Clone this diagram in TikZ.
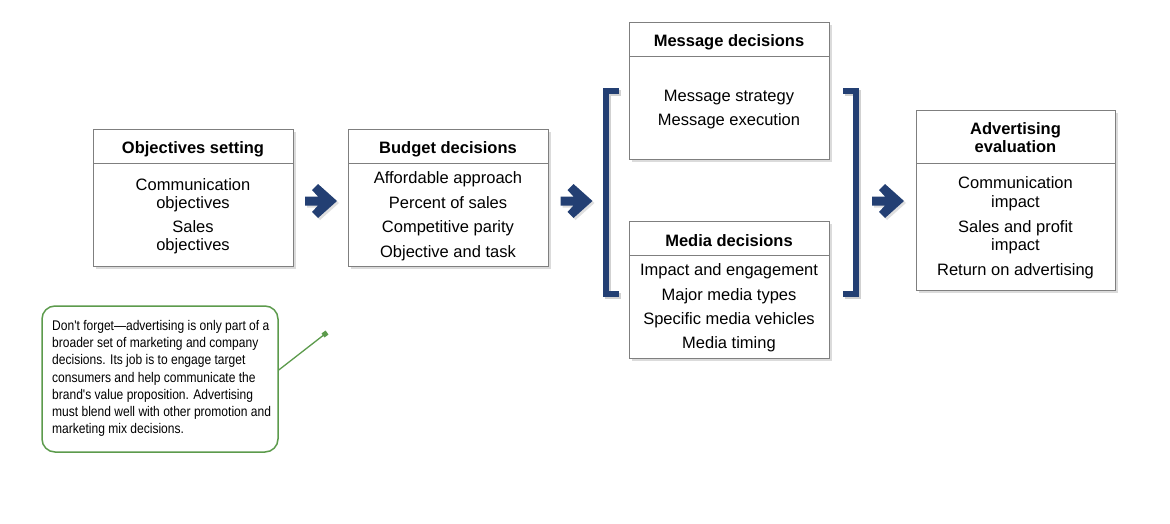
\documentclass[tikz,border=0pt]{standalone}
\usepackage{fontspec}
\setmainfont{Liberation Sans}
\newfontfamily\notefont[FakeStretch=0.86]{Liberation Sans}
\usetikzlibrary{shadows}
\definecolor{navy}{HTML}{233F73}
\definecolor{notegreen}{HTML}{5C9B4C}
\definecolor{rulegray}{HTML}{7F7F7F}
\begin{document}
\begin{tikzpicture}[x=1pt,y=-1pt,
  box/.style={draw=rulegray, line width=0.9pt, fill=white, inner sep=0pt,
    minimum width=200pt, anchor=north west,
    drop shadow={shadow xshift=3pt, shadow yshift=-3pt, opacity=0.28}},
  divider/.style={draw=rulegray, line width=0.9pt},
  boxtitle/.style={font=\fontsize{16.5}{18}\bfseries\selectfont, align=center, inner sep=0pt},
  boxbody/.style={font=\fontsize{16.5}{#1}\selectfont, align=center, inner sep=0pt},
  bracketline/.style={draw=navy, line width=6.5pt, line join=miter, line cap=butt},
  bracketshadow/.style={draw=black, opacity=0.18, line width=6.5pt, line join=miter},
  blockarrow/.pic={
    \fill[navy, drop shadow={shadow xshift=2pt, shadow yshift=-2pt, opacity=0.25}]
      (-16,-4.5) -- (-3,-4.5) -- (-9,-11) -- (-3,-17) -- (16,0) -- (-3,17) -- (-9,11)
      -- (-3,4.5) -- (-16,4.5) -- cycle;
  },
  note/.style={draw=notegreen, line width=1.5pt, rounded corners=13pt, fill=white,
    minimum width=236pt, minimum height=146pt, inner sep=0pt},
  notetext/.style={font=\notefont\fontsize{14}{17.2}\selectfont, align=left, inner sep=0pt},
]
\useasboundingbox (0,0) rectangle (1170,524);
\fill[white] (0,0) rectangle (1170,524);

% Objectives setting
\node[box, minimum height=137pt] (obj) at (93,129) {};
\draw[divider] (93,163) -- (293,163);
\node[boxtitle] (objT) at (193,149) {Objectives setting};
\node[boxbody=18] (objB) at (193,216.5) {Communication\\objectives\\[6pt]Sales\\objectives};

% Budget decisions
\node[box, minimum height=137pt] (bud) at (348,129) {};
\draw[divider] (348,163) -- (548,163);
\node[boxtitle] (budT) at (448,149) {Budget decisions};
\node[boxbody=24.5] (budB) at (448,216) {Affordable approach\\Percent of sales\\Competitive parity\\Objective and task};

% Message decisions
\node[box, minimum height=137pt] (msg) at (629,22) {};
\draw[divider] (629,56) -- (829,56);
\node[boxtitle] (msgT) at (729,42) {Message decisions};
\node[boxbody=24] (msgB) at (729,110) {Message strategy\\Message execution};

% Media decisions
\node[box, minimum height=137pt] (med) at (629,221) {};
\draw[divider] (629,255) -- (829,255);
\node[boxtitle] (medT) at (729,240.5) {Media decisions};
\node[boxbody=24.4] (medB) at (729,308) {Impact and engagement\\Major media types\\Specific media vehicles\\Media timing};

% Advertising evaluation
\node[box, minimum width=199pt, minimum height=180pt] (adv) at (916,110) {};
\draw[divider] (916,163) -- (1115,163);
\node[boxtitle] (advT) at (1015.5,138) {Advertising\\evaluation};
\node[boxbody=18.5] (advB) at (1015.5,228) {Communication\\impact\\[6.5pt]Sales and profit\\impact\\[6.5pt]Return on advertising};

% Brackets
\draw[bracketshadow] (621,93) -- (608,93) -- (608,296) -- (621,296);
\draw[bracketline] (619,91) -- (606,91) -- (606,294) -- (619,294);
\draw[bracketshadow] (845,93) -- (858,93) -- (858,296) -- (845,296);
\draw[bracketline] (843,91) -- (856,91) -- (856,294) -- (843,294);

% Arrows
\pic at (321,201) {blockarrow};
\pic at (576.5,201) {blockarrow};
\pic at (888,201) {blockarrow};

% Note
\node[note] (note) at (160,379) {};
\node[notetext, anchor=west] (noteT) at (52,378.5) {Don't forget—advertising is only part of a\\broader set of marketing and company\\decisions. Its job is to engage target\\consumers and help communicate the\\brand's value proposition. Advertising\\must blend well with other promotion and\\marketing mix decisions.};
\coordinate (pin) at (325,334);
\draw[notegreen, line width=1.3pt] ([yshift=9pt]note.east) -- (pin);
\node[fill=notegreen, minimum size=5pt, inner sep=0pt, rotate=35] (pindot) at (pin) {};
\end{tikzpicture}
\end{document}
